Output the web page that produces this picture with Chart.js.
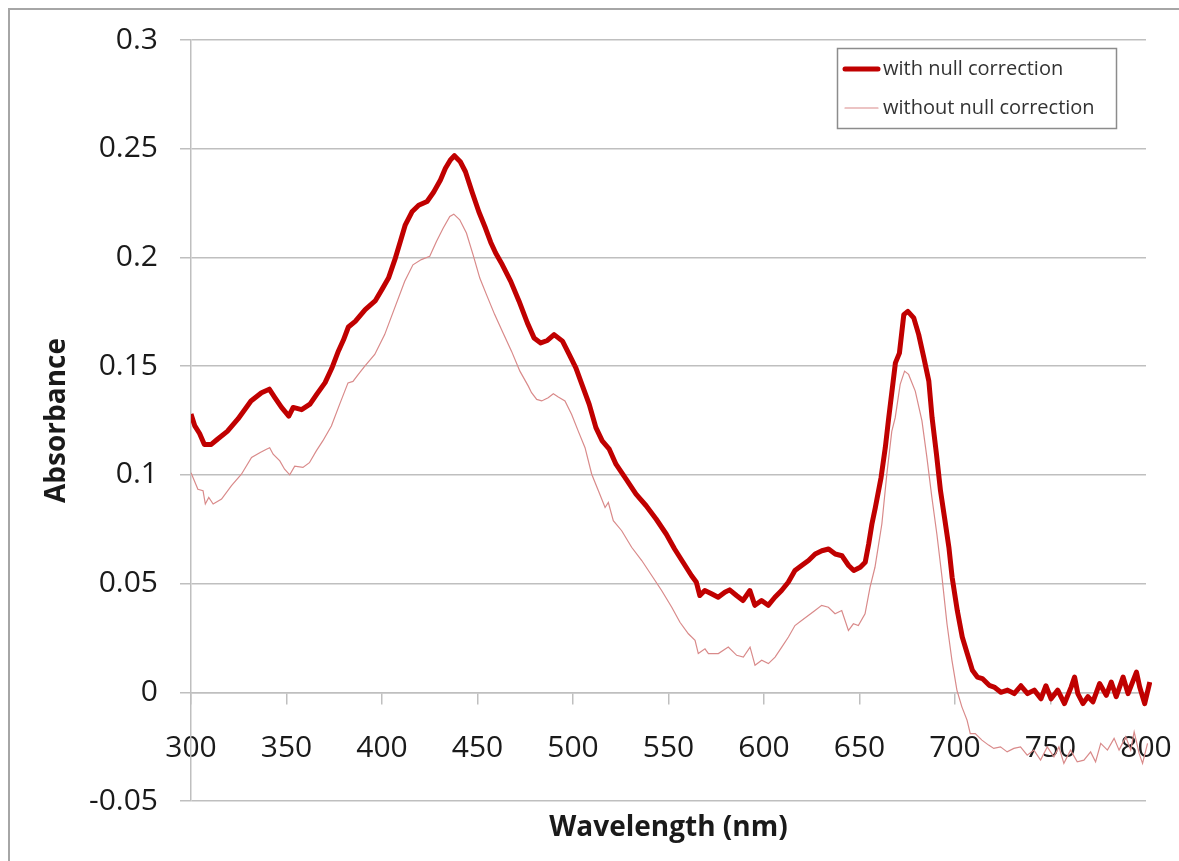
<!DOCTYPE html>
<html>
<head>
<meta charset="utf-8">
<script src="https://cdn.jsdelivr.net/npm/chart.js@4.4.1/dist/chart.umd.min.js"></script>
<style>
  html, body { margin: 0; padding: 0; background: #fff; }
  canvas { display: block; }
</style>
</head>
<body>
<canvas id="spectrum" width="1179" height="861"></canvas>
<script>
// Spectrum data (nm, absorbance)
const wavelengthCorrected = [300,302,304.5,307,310.6,314,319,324.6,331.4,336.9,341,343.9,347.4,351.2,353.5,357.9,362.3,365.8,370.2,373.7,377.2,379.8,382.4,386,391.2,396.4,400,403.4,407,409.6,412.2,415.7,419.2,423.6,427,430.6,433.2,435.8,437.9,441,443.7,447.2,450.7,454.2,456.9,459.5,463,467.4,471.7,476.1,479.6,483.1,486.6,490.1,494.5,498,501.5,505,508.5,512,515.3,519,522.5,527.8,533,538.3,543.5,548.8,553.2,557.6,562,564.6,566.4,569,572.5,576,579.5,582,585.6,589,592.6,595.2,598.7,602.2,605.7,609.2,612.7,616.2,619.7,623.3,626.8,630.3,633.8,637.3,640.8,644.3,647,650.4,653,654.8,656.5,658.3,661.3,663.5,665.3,667,668.8,670.9,673.2,675.3,678.4,681,683.7,686.3,688,690.3,692.4,694.5,696.8,698.5,701.2,703.8,706.4,709.1,711.7,714.3,717.9,720.5,724,727.5,731,734.5,738,741.5,745,747.6,750.3,753.8,757.3,760.8,762.6,764.3,767,769.6,772.2,775.7,779.2,781.8,784.4,788,790.6,795,796.7,799.3,802];
const absorbanceCorrected = [0.128,0.1225,0.119,0.114,0.114,0.1165,0.120,0.1257,0.134,0.1378,0.1394,0.1355,0.131,0.127,0.131,0.130,0.1325,0.137,0.1424,0.149,0.157,0.162,0.168,0.1706,0.176,0.180,0.1853,0.1905,0.1997,0.2073,0.215,0.221,0.224,0.2257,0.230,0.2356,0.241,0.2448,0.2468,0.244,0.2394,0.230,0.221,0.2134,0.207,0.202,0.1966,0.189,0.180,0.1699,0.163,0.1607,0.1618,0.1645,0.1615,0.1554,0.1492,0.1408,0.1324,0.1217,0.1156,0.1118,0.1049,0.098,0.0911,0.0858,0.0797,0.0728,0.0659,0.0598,0.0537,0.0506,0.0445,0.0468,0.0453,0.0437,0.046,0.0471,0.0445,0.0422,0.0468,0.040,0.0422,0.040,0.0437,0.0468,0.0506,0.056,0.0583,0.0606,0.0636,0.0651,0.0659,0.0636,0.0628,0.0583,0.056,0.0575,0.0598,0.0682,0.0774,0.085,0.0988,0.1125,0.1263,0.1385,0.1515,0.156,0.1737,0.1752,0.1722,0.1645,0.1538,0.1431,0.1263,0.1095,0.0927,0.0804,0.0667,0.0529,0.0376,0.0254,0.0178,0.0101,0.007,0.0063,0.0032,0.0024,0.0,0.001,-0.0006,0.003,-0.0006,0.001,-0.003,0.003,-0.003,0.001,-0.0052,0.0024,0.007,-0.0006,-0.0052,-0.002,-0.0044,0.004,-0.0014,0.0047,-0.002,0.007,-0.0006,0.0093,0.0024,-0.0052,0.0047];

const wavelengthRaw = [300,303.6,306.3,307.5,309.3,311.6,316,321.2,326.4,331.7,336,339.5,341.2,343,346.5,349,351.7,354.3,358.6,362,365.6,369,373.5,377.8,382.2,384.8,387.4,391,396.2,401.4,406.6,411.9,416.2,420.6,425,428.5,432,435.5,437.6,440.7,444.2,447.7,451.2,454.7,459,463.4,467.8,472.2,476.6,478.3,481,483.6,487,489.7,492.3,495.8,499.3,502.8,506.3,509.8,513.3,516.8,518.5,521.1,525.5,530.7,536,541.2,546.4,551.7,556,560.4,563.9,565.6,569.1,570.9,576.1,581.3,585.7,589.2,592.7,595.3,598.8,602.3,605.8,609.3,612.8,616.2,619.7,623.2,626.7,630.2,633.7,637.2,640.7,644.2,646.8,649.4,652.9,655.5,658.1,661.7,664.3,666.9,668.7,671.3,673.6,675.7,679.2,682.7,685.3,687.9,690.5,693.2,695.8,698.4,701,703.6,706.3,708,710.6,714.1,717.6,720.3,723.8,727.3,730.8,734.3,737.8,741.3,744.8,748.3,751.8,754.4,757,760.5,764,767.5,771,773.6,776.3,779.8,783.3,785.9,789.4,792,793.8,796.4,798.2,800.8];
const absorbanceRaw = [0.101,0.0934,0.0927,0.0866,0.0896,0.0866,0.0889,0.095,0.1003,0.108,0.1102,0.1118,0.1125,0.1095,0.1064,0.1026,0.100,0.104,0.1034,0.1056,0.111,0.1156,0.1225,0.1324,0.1423,0.143,0.146,0.150,0.1554,0.1645,0.1767,0.189,0.1966,0.199,0.2005,0.2073,0.2134,0.2188,0.2199,0.2173,0.2112,0.2012,0.1905,0.1829,0.1737,0.1653,0.1569,0.1477,0.1408,0.1378,0.1347,0.134,0.1355,0.1373,0.1358,0.134,0.1278,0.120,0.1125,0.1003,0.0927,0.085,0.0873,0.0789,0.0743,0.0667,0.0606,0.0537,0.0468,0.0391,0.0322,0.0269,0.0239,0.0178,0.020,0.0178,0.0178,0.0208,0.017,0.0162,0.0208,0.0124,0.0147,0.0132,0.0162,0.0208,0.0254,0.0307,0.033,0.0353,0.0376,0.040,0.0391,0.0361,0.0376,0.0284,0.0315,0.0307,0.0361,0.0483,0.0575,0.0774,0.1003,0.120,0.1263,0.1416,0.1477,0.1462,0.1385,0.1248,0.1079,0.0896,0.0728,0.0529,0.0315,0.0147,0.001,-0.0067,-0.0128,-0.019,-0.019,-0.022,-0.0243,-0.0258,-0.0251,-0.0274,-0.0258,-0.0251,-0.0289,-0.0266,-0.0312,-0.0251,-0.0297,-0.0251,-0.0327,-0.0266,-0.032,-0.0312,-0.0274,-0.032,-0.0235,-0.0266,-0.0212,-0.0266,-0.0205,-0.0266,-0.0182,-0.0281,-0.0327,-0.0235];

const seriesNames = ['with null correction', 'without null correction'];
const xTitle = 'Wavelength (nm)';
const yTitle = 'Absorbance';

const darkRed = '#C00000';
const lightRed = '#D98A8A';
const gridGray = '#BFBFBF';
const textColor = '#1a1a1a';
const fontFamily = '"Open Sans", "DejaVu Sans", sans-serif';

// zip two arrays into {x, y} points
function toPoints(xs, ys) {
    return xs.map((x, i) => ({ x: x, y: ys[i] }));
}

// white background + the outer frame of the chart
const frame = {
    id: 'frame',
    beforeDraw(chart) {
        const c = chart.ctx;
        c.save();
        c.fillStyle = '#fff';
        c.fillRect(0, 0, chart.width, chart.height);
        c.strokeStyle = '#A6A6A6';
        c.lineWidth = 2;
        c.strokeRect(9, 9, chart.width + 20, chart.height + 20);
        c.restore();
    }
};

// axis titles and the boxed legend inside the plot
const labels = {
    id: 'labels',
    afterDraw(chart) {
        const c = chart.ctx;
        const area = chart.chartArea;
        c.save();
        c.fillStyle = textColor;
        c.font = 'bold 28px ' + fontFamily;
        c.textAlign = 'center';
        c.textBaseline = 'middle';
        c.fillText(xTitle, (area.left + area.right) / 2, 828);

        c.translate(57, (area.top + area.bottom) / 2);
        c.rotate(-Math.PI / 2);
        c.fillText(yTitle, 0, 0);
        c.restore();

        // legend
        c.save();
        c.fillStyle = '#fff';
        c.fillRect(837.5, 48.5, 279, 80);
        c.strokeStyle = '#8C8C8C';
        c.lineWidth = 1.5;
        c.strokeRect(837.5, 48.5, 279, 80);

        c.lineCap = 'round';
        c.strokeStyle = darkRed;
        c.lineWidth = 5;
        c.beginPath();
        c.moveTo(845, 69);
        c.lineTo(878, 69);
        c.stroke();

        c.strokeStyle = lightRed;
        c.lineWidth = 1.2;
        c.beginPath();
        c.moveTo(845, 108);
        c.lineTo(878, 108);
        c.stroke();

        c.fillStyle = '#333';
        c.font = '20px ' + fontFamily;
        c.textAlign = 'left';
        c.textBaseline = 'middle';
        c.fillText(seriesNames[0], 883, 69);
        c.fillText(seriesNames[1], 883, 108);
        c.restore();
    }
};

const chart = new Chart(document.getElementById('spectrum').getContext('2d'), {
    type: 'line',
    data: {
        datasets: [{
            label: seriesNames[0],
            data: toPoints(wavelengthCorrected, absorbanceCorrected),
            borderColor: darkRed,
            backgroundColor: darkRed,
            borderWidth: 5,
            pointRadius: 0,
            tension: 0,
            borderJoinStyle: 'round',
            clip: { left: 0, top: 0, right: 6, bottom: 0 }
        }, {
            label: seriesNames[1],
            data: toPoints(wavelengthRaw, absorbanceRaw),
            borderColor: lightRed,
            backgroundColor: lightRed,
            borderWidth: 1.2,
            pointRadius: 0,
            tension: 0,
            clip: { left: 0, top: 0, right: 6, bottom: 0 }
        }]
    },
    options: {
        responsive: false,
        animation: false,
        devicePixelRatio: 1,
        layout: { padding: { left: 0, top: 40, right: 33, bottom: 60 } },
        plugins: {
            legend: { display: false },
            tooltip: { enabled: false }
        },
        scales: {
            x: {
                type: 'linear',
                position: { y: 0 },
                min: 300,
                max: 800,
                afterFit(scale) {
                    scale.paddingLeft = 0;
                    scale.paddingRight = 0;
                },
                ticks: {
                    stepSize: 50,
                    padding: 27,
                    color: textColor,
                    font: { family: fontFamily, size: 30 },
                    maxRotation: 0,
                    autoSkip: false,
                    callback: v => String(v)
                },
                grid: {
                    drawOnChartArea: false,
                    drawTicks: true,
                    tickLength: 11,
                    color: gridGray,
                    lineWidth: 1.5
                },
                border: { display: true, color: gridGray, width: 1.5 }
            },
            y: {
                min: -0.05,
                max: 0.3,
                afterFit(scale) { scale.width = 191; },
                ticks: {
                    stepSize: 0.05,
                    padding: 22,
                    color: textColor,
                    font: { family: fontFamily, size: 30 },
                    callback: v => String(parseFloat(v.toFixed(2)))
                },
                grid: {
                    color: gridGray,
                    lineWidth: 1.5,
                    tickLength: 11
                },
                border: { display: true, color: gridGray, width: 1.5 }
            }
        }
    },
    plugins: [frame, labels]
});
</script>
</body>
</html>
